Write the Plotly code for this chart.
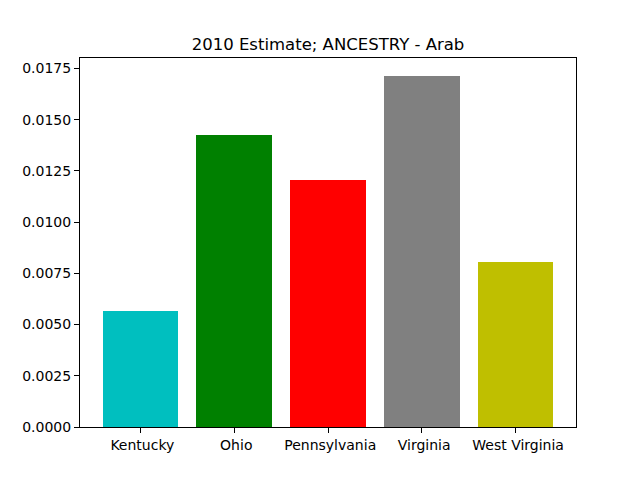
import plotly.graph_objects as go

states = ["Kentucky", "Ohio", "Pennsylvania", "Virginia", "West Virginia"]
values = [0.005667, 0.014236, 0.012079, 0.017157, 0.008053]
colors = ["#00bfbf", "#008000", "#ff0000", "#808080", "#bfbf00"]
ytick_vals = [0, 0.0025, 0.005, 0.0075, 0.01, 0.0125, 0.015, 0.0175]

xpos = list(range(len(states)))
fig = go.Figure(go.Bar(x=xpos, y=values, marker=dict(color=colors, line=dict(width=0)), width=0.8))

fig.update_layout(
    width=640, height=480,
    margin=dict(l=72, r=72, t=50, b=61),
    paper_bgcolor="white", plot_bgcolor="white",
    font=dict(family="DejaVu Sans", size=14, color="black"),
    title=dict(text="2010 Estimate; ANCESTRY - Arab", x=(72 + 248) / 640, xanchor="center",
               y=1 - 36/480, yanchor="middle", font=dict(size=16.5)),
    showlegend=False,
    bargap=0,
)
fig.update_xaxes(range=[-0.64, 4.64], tickvals=xpos, ticktext=[" " + s for s in states],
                 showline=True, mirror=True, linecolor="black", linewidth=1,
                 ticks="outside", ticklen=5, tickcolor="black", showgrid=False, zeroline=False)
fig.update_yaxes(range=[0, max(values) * 1.05], tickvals=ytick_vals, tickformat=".4f",
                 showline=True, mirror=True, linecolor="black", linewidth=1,
                 ticks="outside", ticklen=5, tickcolor="black", showgrid=False, zeroline=False)

fig.write_html("out.html")
